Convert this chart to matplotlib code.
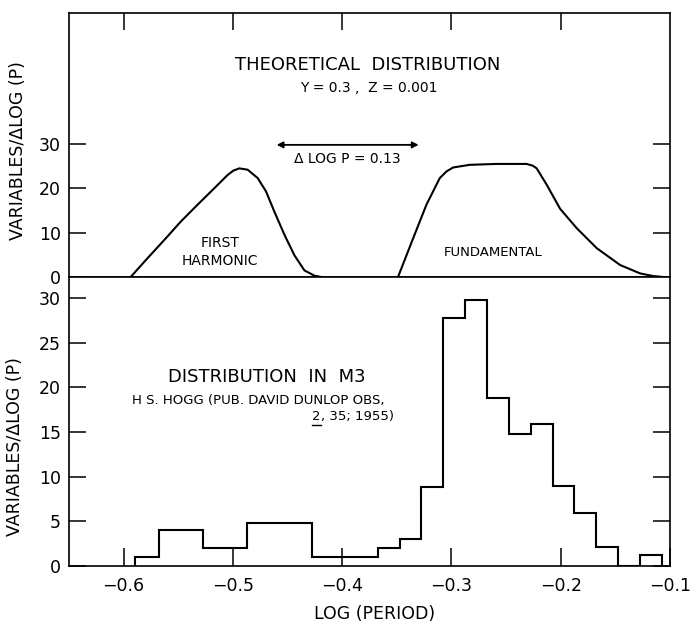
import matplotlib
matplotlib.use("Agg")
import matplotlib.pyplot as plt
from matplotlib.lines import Line2D

plt.rcParams['font.family'] = ['DejaVu Sans']

# Theoretical distribution curves (log P, variables per delta log P)
harmonic_logp = [-0.5936, -0.5783, -0.5630, -0.5477, -0.5324, -0.5171, -0.5049,
                 -0.4995, -0.4942, -0.4865, -0.4773, -0.4697, -0.4620, -0.4528,
                 -0.4437, -0.4346, -0.4254, -0.4190]
harmonic_val = [0, 4.2, 8.3, 12.5, 16.3, 20.0, 23.0, 24.0, 24.5, 24.2, 22.3, 19.3,
                14.7, 9.5, 4.9, 1.5, 0.3, 0]

fundamental_logp = [-0.3489, -0.3351, -0.3229, -0.3107, -0.3046, -0.2985, -0.2832,
                    -0.2587, -0.2312, -0.2255, -0.2220, -0.2128, -0.2006, -0.1853,
                    -0.1670, -0.1456, -0.1272, -0.1150, -0.1058]
fundamental_val = [0, 8.7, 16.3, 22.3, 23.8, 24.7, 25.3, 25.5, 25.5, 25.1, 24.5,
                   20.8, 15.4, 11.0, 6.5, 2.7, 0.8, 0.2, 0]

# Observed histogram for M3
bin_edges = [-0.5895, -0.5675, -0.5475, -0.5275, -0.5075, -0.4875, -0.4675,
             -0.4475, -0.4275, -0.4075, -0.3875, -0.3675, -0.3475, -0.3275,
             -0.3075, -0.2875, -0.2675, -0.2475, -0.2275, -0.2075, -0.1875,
             -0.1675, -0.1475, -0.1275, -0.1075]
counts = [1, 4, 4, 2, 2, 4.8, 4.8, 4.8, 1, 1, 1, 2, 3, 8.8, 27.8, 29.8,
          18.8, 14.8, 15.9, 8.9, 5.9, 2.1, 0, 1.2]

x_ticks = [-0.6, -0.5, -0.4, -0.3, -0.2, -0.1]
x_tick_labels = ["\u22120.6", "\u22120.5", "\u22120.4", "\u22120.3", "\u22120.2", "\u22120.1"]
top_y_ticks = [0, 10, 20, 30]
bottom_y_ticks = [0, 5, 10, 15, 20, 25, 30]

delta_logp = 0.13
arrow_start = -0.46
arrow_level = 29.8

fig = plt.figure(figsize=(6.95, 6.27), dpi=100)
ax_top = fig.add_axes([0.0993, 0.5582, 0.8647, 0.4215])
ax_bot = fig.add_axes([0.0993, 0.0973, 0.8647, 0.4609])

lw_spine = 1.2
lw_line = 1.5
tick_kw = dict(direction='in', width=1.1, length=12, labelsize=12.5, color='black')

for ax in (ax_top, ax_bot):
    ax.set_xlim(-0.65, -0.1)
    for s in ax.spines.values():
        s.set_linewidth(lw_spine)

# ---- top panel ----
ax_top.set_ylim(0, 59.6)
ax_top.plot(harmonic_logp, harmonic_val, color='black', lw=lw_line)
ax_top.plot(fundamental_logp, fundamental_val, color='black', lw=lw_line)
ax_top.set_xticks(x_ticks[:-1])
ax_top.tick_params(axis='x', bottom=False, top=True, labelbottom=False,
                   labeltop=False, **tick_kw)
ax_top.set_yticks(top_y_ticks)
ax_top.set_yticklabels([str(v) for v in top_y_ticks])
ax_top.tick_params(axis='y', left=True, right=True, pad=6, **tick_kw)
ax_top.set_ylabel("VARIABLES/\u0394LOG (P)", fontsize=12.5)
ax_top.yaxis.set_label_coords(-0.07, 0.48)

ax_top.text(-0.377, 47.8, "THEORETICAL  DISTRIBUTION", ha='center', va='center',
            fontsize=13)
ax_top.text(-0.376, 42.6, "Y = 0.3 ,  Z = 0.001", ha='center', va='center',
            fontsize=10)
ax_top.annotate("", xy=(arrow_start, arrow_level),
                xytext=(arrow_start + delta_logp, arrow_level),
                arrowprops=dict(arrowstyle='<|-|>', color='black', lw=1.3,
                                mutation_scale=9, shrinkA=0, shrinkB=0))
ax_top.text(-0.395, 26.6, "\u0394 LOG P = %.2f" % delta_logp, ha='center',
            va='center', fontsize=10)
ax_top.text(-0.512, 5.6, "FIRST\nHARMONIC", ha='center', va='center',
            fontsize=10, multialignment='center', linespacing=1.35)
ax_top.text(-0.2617, 5.6, "FUNDAMENTAL", ha='center', va='center', fontsize=9.5)

# ---- bottom panel ----
ax_bot.set_ylim(0, 32.35)
ax_bot.stairs(counts, bin_edges, baseline=0, fill=False, color='black', lw=lw_line)
ax_bot.set_xticks(x_ticks)
ax_bot.set_xticklabels(x_tick_labels)
ax_bot.tick_params(axis='x', bottom=True, top=False, pad=8, **tick_kw)
ax_bot.tick_params(axis='x', length=13)
ax_bot.set_yticks(bottom_y_ticks)
ax_bot.set_yticklabels([str(v) for v in bottom_y_ticks])
ax_bot.tick_params(axis='y', left=True, right=True, pad=6, **tick_kw)
ax_bot.set_ylabel("VARIABLES/\u0394LOG (P)", fontsize=12.5)
ax_bot.yaxis.set_label_coords(-0.075, 0.415)
ax_bot.set_xlabel("LOG (PERIOD)", fontsize=12.5)
ax_bot.xaxis.set_label_coords(0.509, -0.135)

ax_bot.text(-0.4686, 21.2, "DISTRIBUTION  IN  M3", ha='center', va='center',
            fontsize=13)
ax_bot.text(-0.592, 18.5, "H S. HOGG (PUB. DAVID DUNLOP OBS,", ha='left',
            va='center', fontsize=9.5)
vol = ax_bot.text(-0.4275, 16.7, "2", ha='left', va='center', fontsize=9.5)
ax_bot.annotate(", 35; 1955)", xy=(1, 0), xycoords=vol, ha='left', va='bottom',
                fontsize=9.5)

# underline the volume number
fig.canvas.draw()
bb = vol.get_window_extent().transformed(fig.transFigure.inverted())
fig.add_artist(Line2D([bb.x0, bb.x1], [bb.y0 - 0.002, bb.y0 - 0.002],
                      transform=fig.transFigure, color='black', lw=1.0))

fig.savefig("out.png", dpi=100)
